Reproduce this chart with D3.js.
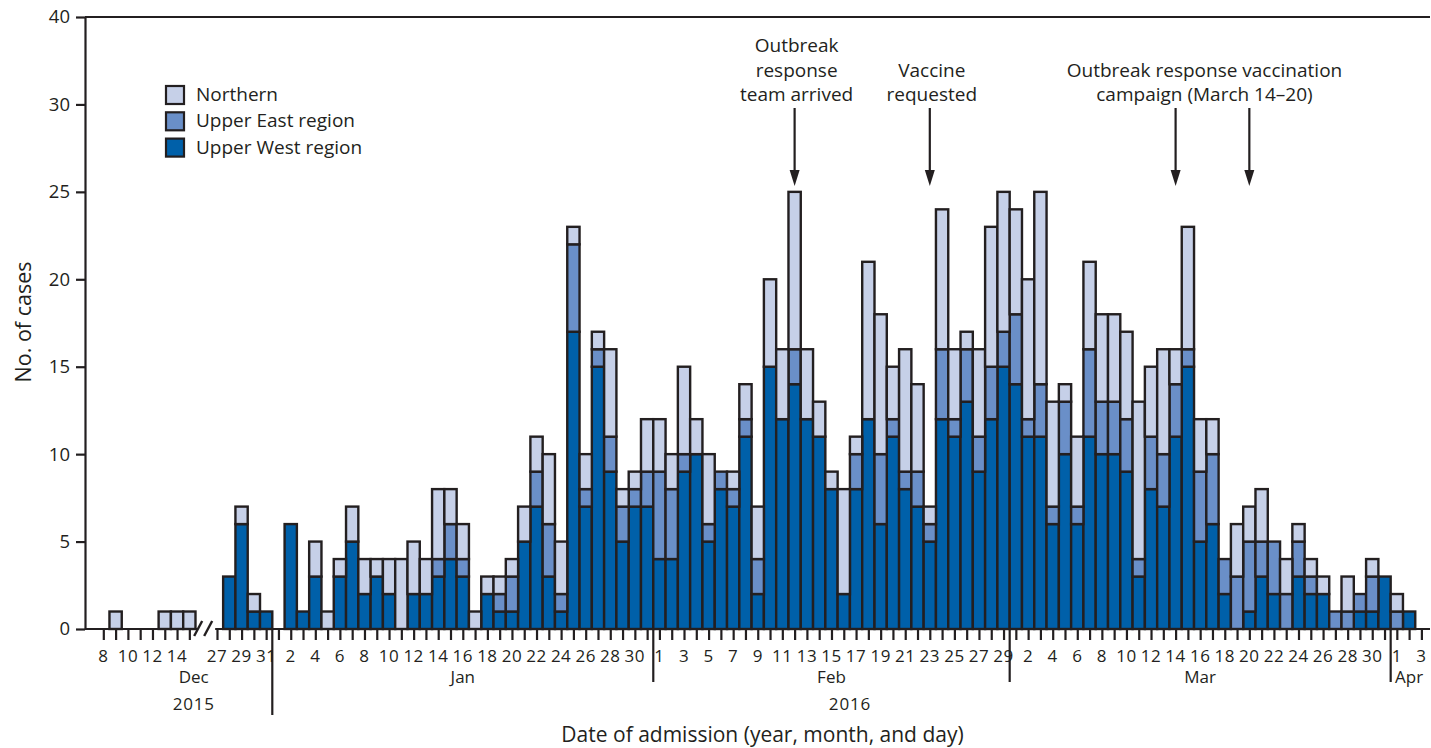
<!DOCTYPE html>
<html><head><meta charset="utf-8">
<script src="https://cdn.jsdelivr.net/npm/d3@7"></script>
<style>
body{margin:0;background:#fff;}
svg{display:block;font-family:"Open Sans",sans-serif;}
</style>
</head><body>
<svg id="chart" width="1431" height="748"></svg>
<script>
// ---------- DATA ----------
const categories = [
 "Dec 8","Dec 9","Dec 10","Dec 11","Dec 12","Dec 13","Dec 14","Dec 15",
 "Dec 27","Dec 28","Dec 29","Dec 30","Dec 31",
 "Jan 1","Jan 2","Jan 3","Jan 4","Jan 5","Jan 6","Jan 7","Jan 8","Jan 9","Jan 10",
 "Jan 11","Jan 12","Jan 13","Jan 14","Jan 15","Jan 16","Jan 17","Jan 18","Jan 19","Jan 20",
 "Jan 21","Jan 22","Jan 23","Jan 24","Jan 25","Jan 26","Jan 27","Jan 28","Jan 29","Jan 30","Jan 31",
 "Feb 1","Feb 2","Feb 3","Feb 4","Feb 5","Feb 6","Feb 7","Feb 8","Feb 9","Feb 10",
 "Feb 11","Feb 12","Feb 13","Feb 14","Feb 15","Feb 16","Feb 17","Feb 18","Feb 19","Feb 20",
 "Feb 21","Feb 22","Feb 23","Feb 24","Feb 25","Feb 26","Feb 27","Feb 28","Feb 29",
 "Mar 1","Mar 2","Mar 3","Mar 4","Mar 5","Mar 6","Mar 7","Mar 8","Mar 9","Mar 10",
 "Mar 11","Mar 12","Mar 13","Mar 14","Mar 15","Mar 16","Mar 17","Mar 18","Mar 19","Mar 20",
 "Mar 21","Mar 22","Mar 23","Mar 24","Mar 25","Mar 26","Mar 27","Mar 28","Mar 29","Mar 30","Mar 31",
 "Apr 1","Apr 2","Apr 3"
];
const upperWest = [
 0,0,0,0,0,0,0,0, 0,3,6,1,1,
 0,6,1,3,0,3,5,2,3,2, 0,2,2,3,4,3,0,2,1,1, 5,7,3,1,17,7,15,9,5,7,7,
 4,4,9,10,5,8,7,11,2,15, 12,14,12,11,8,2,8,12,6,11, 8,7,5,12,11,13,9,12,15,
 14,11,11,6,10,6,11,10,10,9, 3,8,7,11,15,5,6,2,0,1, 3,2,0,3,2,2,0,0,1,1,3,
 0,1,0
];
const upperEast = [
 0,0,0,0,0,0,0,0, 0,0,0,0,0,
 0,0,0,0,0,0,0,0,0,0, 0,0,0,1,2,1,0,0,1,2, 0,2,3,1,5,1,1,2,2,1,2,
 5,4,1,0,1,1,1,1,2,0, 0,2,0,0,0,0,2,0,4,1, 1,2,1,4,1,3,2,3,2,
 4,1,3,1,3,1,5,3,3,3, 1,3,3,3,1,4,4,2,3,4, 2,3,2,2,1,0,1,1,1,2,0,
 1,0,0
];
const northern = [
 0,1,0,0,0,1,1,1, 0,0,1,1,0,
 0,0,0,2,1,1,2,2,1,2, 4,3,2,4,2,2,1,1,1,1, 2,2,4,3,1,2,1,5,1,1,3,
 3,2,5,2,4,0,1,2,3,5, 4,9,4,2,1,6,1,9,8,3, 7,5,1,8,4,1,5,8,8,
 6,8,11,6,1,4,5,5,5,5, 9,4,6,2,7,3,2,0,3,2, 3,0,2,1,1,1,0,2,0,1,0,
 1,0,0
];
const seriesNames = ["Upper West region","Upper East region","Northern"];
const legendOrder = ["Northern","Upper East region","Upper West region"];
const yTickValues = [0,5,10,15,20,25,30,35];
const yTickLabels = ["0","5","10","15","20","25","30","40"];
const monthNames = ["Dec","Jan","Feb","Mar","Apr"];
const yearNames = ["2015","2016"];
const annotations = [
 {lines:["Outbreak","response","team arrived"], dates:["Feb 12"]},
 {lines:["Vaccine","requested"], dates:["Feb 23"]},
 {lines:["Outbreak response vaccination","campaign (March 14\u201320)"], dates:["Mar 14","Mar 20"]}
];

// ---------- LAYOUT ----------
const colors = {"Upper West region":"#0060a9","Upper East region":"#6a8fc8","Northern":"#c6d0e8"};
const ink = "#231f20";
const pL = 85, pR = 1430, pT = 17, pB = 629;
const breakAfter = 7, breakExtra = 1.25;
const slot = categories.map((c,i)=> i > breakAfter ? i + breakExtra : i);

const svg = d3.select("#chart");
const x = d3.scaleLinear().domain([-1.49, 107.95]).range([pL, pR]);
const y = d3.scaleLinear().domain([0, 35]).range([pB, pT]);
const bw = x(1) - x(0);

const data = categories.map((c,i)=>({cat:c, s:slot[i],
  "Upper West region":upperWest[i], "Upper East region":upperEast[i], "Northern":northern[i]}));
const stack = d3.stack().keys(seriesNames)(data);

// bars
const g = svg.append("g");
stack.forEach(layer=>{
  g.append("g").selectAll("rect").data(layer.filter(d=>d[1]-d[0]>0)).join("rect")
    .attr("x", d=>x(d.data.s)-bw/2)
    .attr("y", d=>y(d[1]))
    .attr("width", bw)
    .attr("height", d=>y(d[0])-y(d[1]))
    .attr("fill", colors[layer.key])
    .attr("stroke", ink).attr("stroke-width", 2.4);
});

// y axis
const yAxis = svg.append("g").attr("transform",`translate(${pL},0)`)
  .call(d3.axisLeft(y).tickValues(yTickValues).tickFormat((d,i)=>yTickLabels[i]).tickSize(9).tickSizeOuter(0).tickPadding(6));
yAxis.select(".domain").attr("stroke", ink).attr("stroke-width", 2.2);
yAxis.selectAll(".tick line").attr("stroke", ink).attr("stroke-width", 2.2);
yAxis.selectAll(".tick text").attr("font-size", 18.5).attr("fill", ink).attr("font-family","Open Sans");

// top frame
svg.append("line").attr("x1",pL).attr("x2",pR).attr("y1",y(35)).attr("y2",y(35))
  .attr("stroke",ink).attr("stroke-width",2.2);

// x axis ticks
const breakMid = (x(breakAfter) + x(breakAfter+1+breakExtra))/2;
const xAxis = svg.append("g").attr("transform",`translate(0,${pB})`)
  .call(d3.axisBottom(x).tickValues(slot).tickSize(11).tickFormat(""));
xAxis.select(".domain").remove();
xAxis.selectAll(".tick line").attr("stroke", ink).attr("stroke-width", 2.2);
svg.append("line").attr("x1",pL).attr("x2",breakMid-6).attr("y1",pB).attr("y2",pB).attr("stroke",ink).attr("stroke-width",2.2);
svg.append("line").attr("x1",breakMid+12).attr("x2",pR).attr("y1",pB).attr("y2",pB).attr("stroke",ink).attr("stroke-width",2.2);
[-5,5].forEach(o=>{
  svg.append("line").attr("x1",breakMid+o-4).attr("x2",breakMid+o+4)
    .attr("y1",pB+7).attr("y2",pB-8).attr("stroke",ink).attr("stroke-width",2.4);
});

// x tick labels
categories.forEach((c,i)=>{
  const day = +c.split(" ")[1];
  const show = i <= breakAfter ? day % 2 === 0 : (i - breakAfter - 1) % 2 === 0;
  if(!show) return;
  svg.append("text").attr("x", x(slot[i])).attr("y", 662).attr("text-anchor","middle")
    .attr("font-size",17).attr("letter-spacing",0.5).attr("fill",ink).text(day);
});

// month labels and dividers
const monthOf = c => c.split(" ")[0];
monthNames.forEach((m,k)=>{
  const idx = categories.map((c,i)=>i).filter(i=>monthOf(categories[i])===m);
  const lo = x(slot[idx[0]]), hi = x(slot[idx[idx.length-1]]);
  const cx = m === "Dec" ? (lo+hi)/2 + 9 : (lo+hi)/2;
  svg.append("text").attr("x", cx).attr("y", 683).attr("text-anchor","middle")
    .attr("font-size",17).attr("fill",ink).text(m);
  if(k>0){
    const dx = (x(slot[idx[0]]) + x(slot[idx[0]-1]))/2;
    svg.append("line").attr("x1",dx).attr("x2",dx).attr("y1",pB).attr("y2", m==="Jan"?715:682)
      .attr("stroke",ink).attr("stroke-width",2.2);
  }
});
// year labels
{
  const decIdx = categories.map((c,i)=>i).filter(i=>monthOf(categories[i])==="Dec");
  const x15 = (x(slot[decIdx[0]]) + x(slot[decIdx[decIdx.length-1]]))/2 + 9;
  const firstJan = categories.indexOf("Jan 1");
  const x16 = (x(slot[firstJan]) + x(slot[categories.length-1]))/2;
  [[x15,yearNames[0]],[x16,yearNames[1]]].forEach(([xx,t])=>{
    svg.append("text").attr("x",xx).attr("y",710).attr("text-anchor","middle")
      .attr("font-size",17).attr("letter-spacing",0.8).attr("fill",ink).text(t);
  });
}

// axis titles
svg.append("text").attr("x", (pL+pR)/2 + 5).attr("y", 742).attr("text-anchor","middle")
  .attr("font-size",21).attr("fill",ink).text("Date of admission (year, month, and day)");
svg.append("text").attr("transform",`translate(31,${(y(0)+y(35))/2 - 1}) rotate(-90)`)
  .attr("text-anchor","middle").attr("font-size",21.5).attr("fill",ink).text("No. of cases");

// legend
const lg = svg.append("g").attr("transform","translate(166,86)");
legendOrder.forEach((k,i)=>{
  lg.append("rect").attr("x",0).attr("y",i*26.3).attr("width",18).attr("height",18)
    .attr("fill",colors[k]).attr("stroke",ink).attr("stroke-width",2.2);
  lg.append("text").attr("x",30).attr("y",i*26.3+15).attr("font-size",19).attr("fill",ink).text(k);
});

// annotations
annotations.forEach(a=>{
  const xs = a.dates.map(d=>x(slot[categories.indexOf(d)]));
  const cx = d3.mean(xs) + (xs.length>1 ? -8 : 2);
  const lastBase = 101;
  a.lines.forEach((t,j)=>{
    svg.append("text").attr("x",cx).attr("y", lastBase - (a.lines.length-1-j)*24.5)
      .attr("text-anchor","middle").attr("font-size",19).attr("fill",ink).text(t);
  });
  xs.forEach(ax=>{
    svg.append("line").attr("x1",ax).attr("x2",ax).attr("y1",108).attr("y2",172)
      .attr("stroke",ink).attr("stroke-width",2.2);
    svg.append("path").attr("d",`M${ax-5},170 L${ax+5},170 L${ax},186 Z`).attr("fill",ink);
  });
});
</script>
</body></html>
